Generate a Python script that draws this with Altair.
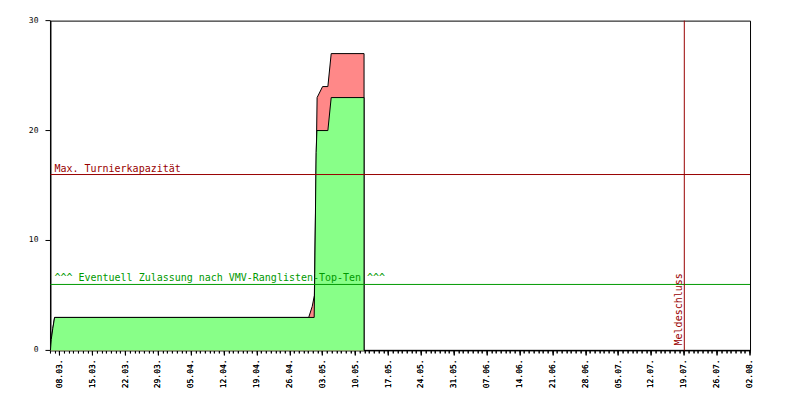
import altair as alt
import pandas as pd

# ---- data ----
green_times = ["2015-03-06T00:00", "2015-03-06T04:00", "2015-03-06T12:00", "2015-03-06T21:00",
               "2015-05-01T04:00", "2015-05-01T07:00", "2015-05-01T14:00", "2015-05-01T18:00",
               "2015-05-04T02:00", "2015-05-04T19:00", "2015-05-11T19:00", "2015-05-11T19:01"]
green_values = [0, 1, 2, 3, 3, 7, 18, 20, 20, 23, 23, 0]

red_times = ["2015-03-06T00:00", "2015-03-06T04:00", "2015-03-06T12:00", "2015-03-06T21:00",
             "2015-04-30T00:00", "2015-04-30T18:00", "2015-05-01T05:00", "2015-05-01T19:00",
             "2015-05-02T23:00", "2015-05-04T02:00", "2015-05-04T19:00", "2015-05-11T19:00",
             "2015-05-11T19:01"]
red_values = [0, 1, 2, 3, 3, 4, 5, 23, 24, 24, 27, 27, 0]

hline_values = [16, 6]
hline_labels = ["Max. Turnierkapazität", "^^^ Eventuell Zulassung nach VMV-Ranglisten-Top-Ten ^^^"]
hline_colors = ["#990000", "#009900"]

deadline_date = "2015-07-19T00:00"
deadline_label = "Meldeschluss"

week_labels = ["08.03.", "15.03.", "22.03.", "29.03.", "05.04.", "12.04.", "19.04.", "26.04.",
               "03.05.", "10.05.", "17.05.", "24.05.", "31.05.", "07.06.", "14.06.", "21.06.",
               "28.06.", "05.07.", "12.07.", "19.07.", "26.07.", "02.08."]
y_ticks = [0, 10, 20, 30]
x_start = "2015-03-06T00:00"
x_end = "2015-08-02T00:00"
YEAR = 2015

# ---- tables ----
green = pd.DataFrame({"t": green_times, "v": green_values})
red = pd.DataFrame({"t": red_times, "v": red_values})
hl = pd.DataFrame({"v": hline_values, "label": hline_labels, "color": hline_colors})
dl = pd.DataFrame({"t": [deadline_date], "label": [deadline_label]})

def dt(s):
    ts = pd.Timestamp(s)
    return alt.DateTime(year=ts.year, month=ts.month, date=ts.day, hours=ts.hour)

major_vals = [alt.DateTime(year=YEAR, month=int(l[3:5]), date=int(l[0:2])) for l in week_labels]
minor_vals = [dt(d) for d in pd.date_range(x_start, x_end, freq="D")]

xscale = alt.Scale(domain=[dt(x_start), dt(x_end)])
yscale = alt.Scale(domain=[0, 30], nice=False)

FONT = "DejaVu Sans Mono"

x_major = alt.Axis(values=major_vals, format="%d.%m.", labelAngle=270, tickSize=5,
                   labelPadding=4, grid=False, title=None, labelFont=FONT, labelFontSize=8,
                   labelColor="black", domainColor="black", tickColor="black",
                   orient="bottom", translate=0)
x_minor = alt.Axis(values=minor_vals, labels=False, tickSize=3, domain=False, grid=False,
                   title=None, tickColor="black", orient="bottom", translate=0)
y_axis = alt.Axis(values=y_ticks, tickSize=5, labelPadding=7, grid=False, title=None,
                  labelFont=FONT, labelFontSize=8, labelColor="black", domainColor="black",
                  tickColor="black", translate=0)

red_area = alt.Chart(red).mark_area(color="#ff8888", opacity=1,
                                    line={"color": "black", "strokeWidth": 1}).encode(
    x=alt.X("t:T", scale=xscale, axis=x_major),
    y=alt.Y("v:Q", scale=yscale, axis=y_axis, stack=None),
)
green_area = alt.Chart(green).mark_area(color="#88ff88", opacity=1,
                                        line={"color": "black", "strokeWidth": 1}).encode(
    x=alt.X("t:T", scale=xscale, axis=x_major),
    y=alt.Y("v:Q", scale=yscale, axis=y_axis, stack=None),
)

hrules = alt.Chart(hl).mark_rule(strokeWidth=1).encode(
    y=alt.Y("v:Q", scale=yscale, axis=y_axis),
    color=alt.Color("color:N", scale=None),
)
htext = alt.Chart(hl).mark_text(align="left", baseline="alphabetic", dx=0, dy=-3,
                                font=FONT, fontSize=10).encode(
    x=alt.value(4),
    y=alt.Y("v:Q", scale=yscale, axis=y_axis),
    text="label:N",
    color=alt.Color("color:N", scale=None),
)

vrule = alt.Chart(dl).mark_rule(color="#990000", strokeWidth=1).encode(
    x=alt.X("t:T", scale=xscale, axis=x_minor),
)
vtext = alt.Chart(dl).mark_text(angle=270, align="left", baseline="alphabetic", dx=5, dy=-2,
                                font=FONT, fontSize=10, color="#990000").encode(
    x=alt.X("t:T", scale=xscale, axis=x_minor),
    y=alt.value(330),
    text="label:N",
)

chart = alt.layer(red_area, green_area, hrules, htext, vrule, vtext).resolve_axis(
    x="independent"
).properties(
    width=700, height=330,
    padding={"left": 42.5, "top": 12.5, "right": 42, "bottom": 50},
    autosize="none",
    background="white",
).configure_view(stroke="black", strokeWidth=1)

chart.save("out.html", embed_options={"renderer": "svg", "actions": False})
